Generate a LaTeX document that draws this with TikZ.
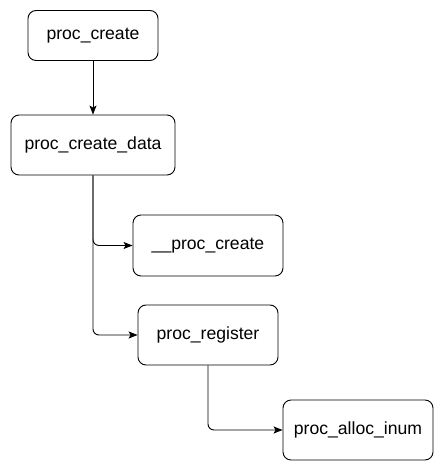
\documentclass[tikz,border=0pt]{standalone}
\usepackage{fontspec}
\setmainfont{Liberation Sans}
\usetikzlibrary{arrows.meta}

\begin{document}
\begin{tikzpicture}[
  x=1pt, y=-1pt,
  font=\fontsize{17.6}{21}\selectfont,
  fn/.style={draw, rounded corners=8pt, line width=0.9pt, inner sep=0pt},
  call/.style={-{Stealth[length=9pt, width=7pt, inset=2pt]}, line width=0.9pt, rounded corners=6pt},
]
\useasboundingbox (0,0) rectangle (435,470);

% ---------------- the functions ----------------
\node[fn, minimum width=130pt, minimum height=50pt] (create)  at (93, 35.5) {proc\_create};
\node[fn, minimum width=164pt, minimum height=60pt] (cdata)   at (93, 145)  {proc\_create\_data};
\node[fn, minimum width=150pt, minimum height=61pt] (ucreate) at (208, 245.5) {\_\_proc\_create};
\node[fn, minimum width=140pt, minimum height=60pt] (reg)     at (208, 335) {proc\_register};
\node[fn, minimum width=150pt, minimum height=60pt] (inum)    at (358, 430) {proc\_alloc\_inum};

% ---------------- the calls ----------------
\draw[call] (create) -- (cdata);
\draw[call] (cdata.south) |- (ucreate.west);
\draw[call] (cdata.south) |- (reg.west);
\draw[call] (reg.south) |- (inum.west);

\end{tikzpicture}
\end{document}
